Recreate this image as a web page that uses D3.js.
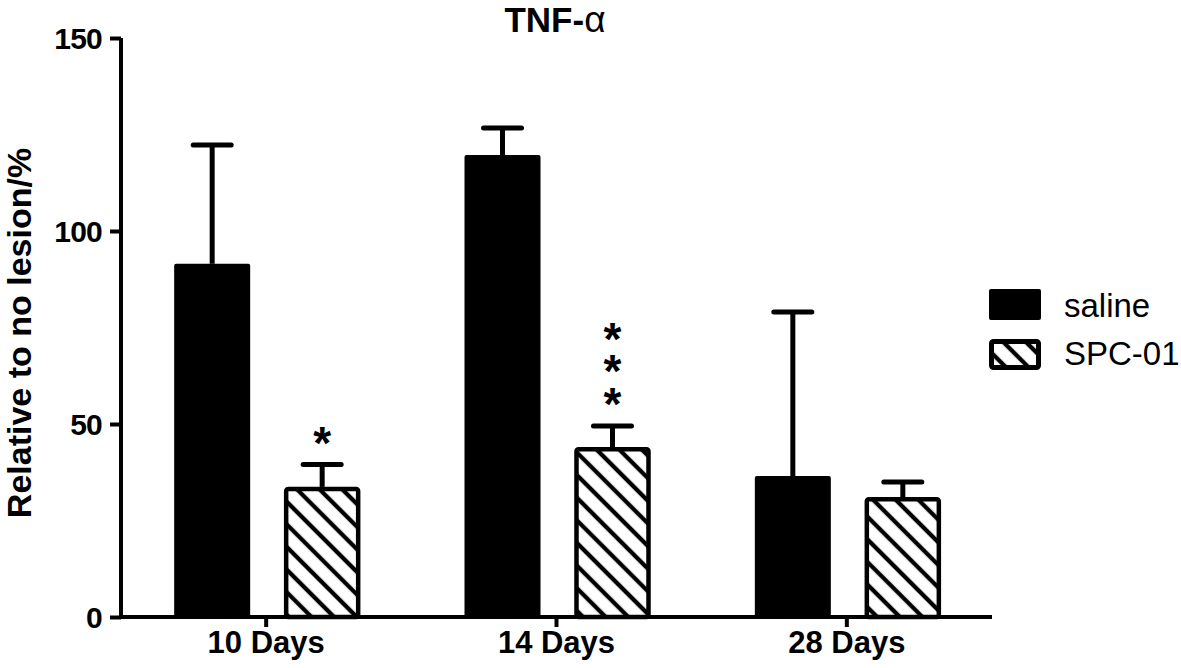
<!DOCTYPE html>
<html>
<head>
<meta charset="utf-8">
<script src="https://cdn.jsdelivr.net/npm/d3@7"></script>
<style>
  body { margin: 0; background: #fff; }
  text { font-family: "Liberation Sans", Arial, sans-serif; }
</style>
</head>
<body>
<script>
// данные графика
const categories = ["10 Days", "14 Days", "28 Days"];
const series = ["saline", "SPC-01"];
const salineMean = [91.5, 119.7, 36.5];
const salineErr = [30.8, 7.0, 42.5];
const spcMean = [33.7, 44.0, 31.0];
const spcErr = [5.8, 5.5, 4.0];
const stars = ["*", "***", ""];
const yTicks = [0, 50, 100, 150];

const width = 1181;
const height = 668;
const margin = { top: 38, right: 189, bottom: 51, left: 121 };

const svg = d3.select("body").append("svg")
  .attr("width", width)
  .attr("height", height);

const defs = svg.append("defs");
const pat = defs.append("pattern")
  .attr("id", "hatch")
  .attr("patternUnits", "userSpaceOnUse")
  .attr("width", 16)
  .attr("height", 16)
  .attr("patternTransform", "rotate(45)");
pat.append("rect").attr("width", 16).attr("height", 16).attr("fill", "#fff");
pat.append("line")
  .attr("x1", 0).attr("y1", 8).attr("x2", 16).attr("y2", 8)
  .attr("stroke", "#000").attr("stroke-width", 4.3);

const x = d3.scaleBand()
  .domain(categories)
  .range([margin.left, width - margin.right]);

const xInner = d3.scaleBand()
  .domain(series)
  .range([-92, 94])
  .paddingInner(0.309)
  .paddingOuter(0);

const y = d3.scaleLinear()
  .domain([0, 150])
  .range([height - margin.bottom, margin.top]);

const rows = categories.map((c, i) => [
  { cat: c, s: "saline", v: salineMean[i], e: salineErr[i] },
  { cat: c, s: "SPC-01", v: spcMean[i], e: spcErr[i] },
]).flat();

const cx = (d) => x(d.cat) + x.bandwidth() / 2 + xInner(d.s);
const mid = (d) => cx(d) + xInner.bandwidth() / 2;

// столбцы
svg.selectAll(".bar")
  .data(rows)
  .enter()
  .append("rect")
  .attr("class", "bar")
  .attr("x", (d) => cx(d) + (d.s === "saline" ? 0 : 2))
  .attr("y", (d) => y(d.v) + (d.s === "saline" ? 0 : 2))
  .attr("width", (d) => xInner.bandwidth() - (d.s === "saline" ? 0 : 4))
  .attr("height", (d) => y(0) - y(d.v) - (d.s === "saline" ? 0 : 2))
  .attr("rx", 2)
  .attr("fill", (d) => (d.s === "saline" ? "#000" : "url(#hatch)"))
  .attr("stroke", (d) => (d.s === "saline" ? "none" : "#000"))
  .attr("stroke-width", 4.5);

// планки погрешностей
const err = svg.selectAll(".err")
  .data(rows)
  .enter()
  .append("g")
  .attr("class", "err")
  .attr("stroke", "#000")
  .attr("stroke-width", 5)
  .attr("stroke-linecap", "round");

err.append("line")
  .attr("x1", mid)
  .attr("x2", mid)
  .attr("y1", (d) => y(d.v))
  .attr("y2", (d) => y(d.v + d.e))
  .attr("stroke-linecap", "butt");

err.append("line")
  .attr("x1", (d) => mid(d) - 19)
  .attr("x2", (d) => mid(d) + 19)
  .attr("y1", (d) => y(d.v + d.e))
  .attr("y2", (d) => y(d.v + d.e));

// звёздочки (одним текстом, по строке на звезду)
rows.filter((d) => d.s === "SPC-01").forEach((d, i) => {
  const n = stars[i].length;
  if (!n) return;
  const t = svg.append("text")
    .attr("text-anchor", "middle")
    .attr("font-size", 46)
    .attr("font-weight", "bold");
  for (let k = 0; k < n; k++) {
    t.append("tspan")
      .attr("x", mid(d))
      .attr("y", y(d.v + d.e) - 6 - (n - 1 - k) * 32.5)
      .text("*");
  }
});

// оси
const yAxis = svg.append("g")
  .attr("transform", `translate(${margin.left},0)`)
  .call(d3.axisLeft(y).tickValues(yTicks).tickSize(11).tickPadding(8));
yAxis.select(".domain").attr("stroke-width", 4).attr("d", `M-0,${y(0)}V${y(150)}`);
yAxis.selectAll(".tick line").attr("stroke-width", 4);
yAxis.selectAll(".tick text")
  .attr("font-size", 30)
  .attr("font-weight", "bold")
  .attr("letter-spacing", -0.8)
  .attr("dy", "0.36em")
  .attr("font-family", "Liberation Sans, Arial, sans-serif")
  .attr("fill", "#000");

const xAxis = svg.append("g")
  .attr("transform", `translate(0,${y(0)})`)
  .call(d3.axisBottom(x).tickSize(10).tickPadding(6));
xAxis.select(".domain").attr("stroke-width", 4)
  .attr("d", `M${margin.left - 2},0H${width - margin.right}`);
xAxis.selectAll(".tick line").attr("stroke-width", 4);
xAxis.selectAll(".tick text")
  .attr("font-size", 31)
  .attr("font-weight", "bold")
  .attr("dy", "0.66em")
  .attr("font-family", "Liberation Sans, Arial, sans-serif")
  .attr("fill", "#000");

// заголовок и подпись оси
svg.append("text")
  .attr("x", 555)
  .attr("y", 32)
  .attr("text-anchor", "middle")
  .attr("font-size", 35)
  .attr("font-weight", "bold")
  .text("TNF-")
  .append("tspan")
  .attr("font-weight", "normal")
  .attr("font-size", 37)
  .text("α");

svg.append("text")
  .attr("transform", `translate(31,333) rotate(-90)`)
  .attr("text-anchor", "middle")
  .attr("font-size", 34)
  .attr("font-weight", "bold")
  .text("Relative to no lesion/%");

// легенда
const legend = svg.selectAll(".legend")
  .data(series)
  .enter()
  .append("g")
  .attr("class", "legend")
  .attr("transform", (d, i) => `translate(989,${289 + i * 50})`);

legend.append("rect")
  .attr("x", (d) => (d === "saline" ? 0 : 2.5))
  .attr("y", (d) => (d === "saline" ? 0 : 2.5))
  .attr("width", (d) => (d === "saline" ? 52 : 47))
  .attr("height", (d) => (d === "saline" ? 31 : 26))
  .attr("rx", 2)
  .attr("fill", (d) => (d === "saline" ? "#000" : "url(#hatch)"))
  .attr("stroke", (d) => (d === "saline" ? "none" : "#000"))
  .attr("stroke-width", 5);

legend.append("text")
  .attr("x", 75)
  .attr("y", (d, i) => 28 - i * 2)
  .attr("font-size", 33)
  .text((d) => d);
</script>
</body>
</html>
